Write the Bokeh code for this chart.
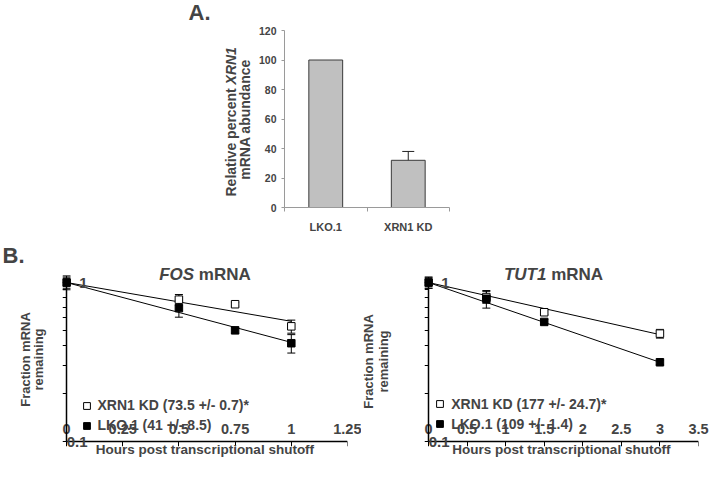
import math
from bokeh.plotting import figure
from bokeh.models import (Range1d, FixedTicker, Whisker, ColumnDataSource, Label,
                          Legend, LegendItem, TeeHead, LinearAxis, LogAxis)
from bokeh.layouts import column, row
from bokeh.embed import file_html
from bokeh.resources import INLINE

FONT = "Liberation Sans"

# ---------------- Panel A data ----------------
a_categories = ["LKO.1", "XRN1 KD"]
a_values = [100, 32]
a_errors = [0, 6]
a_yticks = [0, 20, 40, 60, 80, 100, 120]

# ---------------- Panel B data (FOS) ----------------
fos_hours = [0, 0.5, 0.75, 1.0]
fos_xrn1 = [1.0, 0.78, 0.73, 0.53]
fos_xrn1_err = [0.1, 0.06, 0.02, 0.05]
fos_lko = [1.0, 0.69, 0.50, 0.415]
fos_lko_err = [0.08, 0.085, 0.02, 0.055]
fos_fit_hours = [0, 1.0]
fos_xrn1_fit = [1.0, 0.57]
fos_lko_fit = [1.0, 0.42]
fos_xticks = [0, 0.25, 0.5, 0.75, 1.0, 1.25]
fos_legend = ["XRN1 KD (73.5 +/- 0.7)*", "LKO.1 (41 +/- 8.5)"]

# ---------------- Panel B data (TUT1) ----------------
tut1_hours = [0, 0.75, 1.5, 3.0]
tut1_xrn1 = [1.0, 0.81, 0.65, 0.477]
tut1_xrn1_err = [0.08, 0.07, 0.02, 0.03]
tut1_lko = [1.0, 0.79, 0.565, 0.315]
tut1_lko_err = [0.08, 0.1, 0.02, 0.01]
tut1_fit_hours = [0, 3.0]
tut1_xrn1_fit = [1.0, 0.47]
tut1_lko_fit = [1.0, 0.315]
tut1_xticks = [0, 0.5, 1, 1.5, 2, 2.5, 3, 3.5]
tut1_legend = ["XRN1 KD (177 +/- 24.7)*", "LKO.1 (109 +/- 1.4)"]

y_major = [0.1, 1]
y_minor = [k / 10 for k in range(2, 10)]
x_title = "Hours post transcriptional shutoff"


def text_label(p, side, **kw):
    kw.setdefault("text_font", FONT)
    kw.setdefault("text_font_style", "bold")
    kw.setdefault("text_baseline", "middle")
    if side is None:
        p.add_layout(Label(**kw))
    else:
        p.add_layout(Label(**kw), side)


# =============== Panel A ===============
A_LEFT, A_FW, A_TOP, A_FH, A_H = 284, 165, 30, 177, 235
pa = figure(frame_width=A_FW, frame_height=A_FH, output_backend="svg",
            toolbar_location=None,
            x_range=Range1d(0, len(a_categories)), y_range=Range1d(0, 120),
            min_border_left=A_LEFT, min_border_right=711 - A_LEFT - A_FW,
            min_border_top=A_TOP, min_border_bottom=A_H - A_TOP - A_FH)
pa.outline_line_color = None
pa.grid.visible = False
a_x = [i + 0.5 for i in range(len(a_categories))]
pa.vbar(x=a_x, top=a_values, bottom=0, width=0.41, fill_color="#c0c0c0",
        line_color="#3a3a3a", line_width=1)
err_idx = [i for i, e in enumerate(a_errors) if e > 0]
a_err_src = ColumnDataSource(dict(
    x=[a_x[i] for i in err_idx],
    upper=[a_values[i] + a_errors[i] for i in err_idx],
    lower=[a_values[i] - a_errors[i] for i in err_idx]))
pa.add_layout(Whisker(source=a_err_src, base="x", upper="upper", lower="lower",
                      line_color="#222222", line_width=1,
                      upper_head=TeeHead(size=12, line_color="#222222", line_width=1),
                      lower_head=TeeHead(size=12, line_color="#222222", line_width=1)))
ya = pa.yaxis[0]
ya.ticker = FixedTicker(ticks=a_yticks, minor_ticks=[])
ya.axis_line_color = "#9a9a9a"
ya.major_tick_line_color = "#9a9a9a"
ya.major_tick_out = 3
ya.major_tick_in = 0
ya.major_label_standoff = 5
ya.major_label_text_font = FONT
ya.major_label_text_font_style = "bold"
ya.major_label_text_font_size = "10.5px"
xa = pa.xaxis[0]
xa.ticker = FixedTicker(ticks=a_x, minor_ticks=list(range(len(a_categories) + 1)))
xa.major_label_overrides = {x: c for x, c in zip(a_x, a_categories)}
xa.axis_line_color = "#9a9a9a"
xa.major_tick_line_color = None
xa.major_tick_out = 0
xa.major_tick_in = 0
xa.minor_tick_line_color = "#9a9a9a"
xa.minor_tick_out = 4
xa.minor_tick_in = 0
xa.major_label_standoff = 9
xa.major_label_text_font = FONT
xa.major_label_text_font_style = "bold"
xa.major_label_text_font_size = "11px"

ylab_fs = 14
text_label(pa, "left", x=0, y=0, x_offset=-54, y_offset=11, angle=math.pi / 2,
           text="Relative percent ", text_font_size=f"{ylab_fs}px", text_align="left")
text_label(pa, "left", x=0, y=0, x_offset=-54, y_offset=11 + 8.003 * ylab_fs,
           angle=math.pi / 2, text="XRN1", text_font_style="bold italic",
           text_font_size=f"{ylab_fs}px", text_align="left")
text_label(pa, "left", x=0, y=0, x_offset=-40, y_offset=88, angle=math.pi / 2,
           text="mRNA abundance", text_font_size=f"{ylab_fs}px", text_align="center")
text_label(pa, "left", x=0, y=120, x_offset=-96, y_offset=18, text="A.",
           text_font_size="22px")


# =============== Panel B ===============
def decay_panel(border_left, border_right, axis_w, hours, xrn1, xrn1_err,
                lko, lko_err, fit_hours, xrn1_fit, lko_fit, xticks, gene,
                legend_labels, title_offset, ylab_offsets, ylab_center, legend_x,
                legend_y, panel_letter=None):
    pad_l, pad_b, pad_t = 4, 5, 15
    ax_h = 159
    xmax = xticks[-1]
    x0 = -pad_l * xmax / axis_w
    y0 = 0.1 * 10 ** (-pad_b / ax_h)
    y1 = 10 ** (pad_t / ax_h)
    p = figure(frame_width=axis_w + pad_l, frame_height=ax_h + pad_b + pad_t,
               output_backend="svg", toolbar_location=None,
               x_range=Range1d(x0, xmax), y_range=Range1d(y0, y1), y_axis_type="log",
               min_border_left=border_left, min_border_right=border_right,
               min_border_top=32, min_border_bottom=52)
    p.outline_line_color = None
    p.grid.visible = False

    p.line(fit_hours, xrn1_fit, line_color="black", line_width=1)
    p.line(fit_hours, lko_fit, line_color="black", line_width=1)

    for vals, errs in ((xrn1, xrn1_err), (lko, lko_err)):
        src = ColumnDataSource(dict(x=hours,
                                    upper=[v + e for v, e in zip(vals, errs)],
                                    lower=[v - e for v, e in zip(vals, errs)]))
        p.add_layout(Whisker(source=src, base="x", upper="upper", lower="lower",
                             line_color="black", line_width=1,
                             upper_head=TeeHead(size=8, line_color="black", line_width=1),
                             lower_head=TeeHead(size=8, line_color="black", line_width=1)))

    r_open = p.scatter(hours, xrn1, marker="square", size=7.5, fill_color="white",
                       line_color="black", line_width=1)
    r_fill = p.scatter(hours, lko, marker="square", size=7.5, fill_color="black",
                       line_color="black", line_width=1)

    # default axes: drawn at the data origin (x=0, y=0.1), inside the padded frame
    xa = p.xaxis[0]
    xa.fixed_location = 0.1
    xa.bounds = (0, xmax)
    xa.ticker = FixedTicker(ticks=xticks, minor_ticks=[])
    xa.major_label_overrides = {t: f"{t:g}" for t in xticks}
    xa.axis_line_width = 1.5
    xa.major_tick_out = 5
    xa.major_tick_in = 0
    xa.major_label_standoff = 10
    xa.major_label_text_font = FONT
    xa.major_label_text_font_style = "bold"
    xa.major_label_text_font_size = "14.5px"

    ya = p.yaxis[0]
    ya.fixed_location = 0
    ya.bounds = (0.1, 1)
    ya.ticker = FixedTicker(ticks=y_major, minor_ticks=y_minor)
    ya.major_label_overrides = {t: f"{t:g}" for t in y_major}
    ya.axis_line_width = 1.5
    ya.major_tick_out = 4
    ya.major_tick_in = 0
    ya.minor_tick_out = 4
    ya.minor_tick_in = 0
    ya.major_label_standoff = 3
    ya.major_label_text_font = FONT
    ya.major_label_text_font_style = "bold"
    ya.major_label_text_font_size = "15px"

    # label-carrying axes, stacked outside the default ones
    ylab = LogAxis(ticker=FixedTicker(ticks=y_major, minor_ticks=[]),
                   major_label_overrides={t: f"{t:g}" for t in y_major},
                   axis_line_color=None, major_tick_line_color=None,
                   minor_tick_line_color=None, major_tick_out=0, major_tick_in=0,
                   minor_tick_out=0, minor_tick_in=0, major_label_standoff=-25,
                   major_label_text_font=FONT, major_label_text_font_style="bold",
                   major_label_text_font_size="15px")
    p.add_layout(ylab, "left")
    xlab = LinearAxis(ticker=FixedTicker(ticks=xticks, minor_ticks=[]),
                      major_label_overrides={t: f"{t:g}" for t in xticks},
                      axis_line_color=None, major_tick_line_color=None,
                      major_tick_out=0, major_tick_in=0, major_label_standoff=-23,
                      major_label_text_font=FONT, major_label_text_font_style="bold",
                      major_label_text_font_size="14.5px",
                      axis_label=x_title, axis_label_text_font=FONT,
                      axis_label_text_font_style="bold",
                      axis_label_text_font_size="13.5px", axis_label_standoff=5)
    p.add_layout(xlab, "below")

    # title (inside the frame's top margin)
    tfs = 17
    xc = xmax / 2
    text_label(p, None, x=xc, y=1, x_offset=title_offset[0], y_offset=8,
               text=gene, text_font_style="bold italic", text_font_size=f"{tfs}px",
               text_align="left")
    text_label(p, None, x=xc, y=1, x_offset=title_offset[1], y_offset=8,
               text="mRNA", text_font_size=f"{tfs}px", text_align="left")
    # y label
    for txt, off in zip(["Fraction mRNA", "remaining"], ylab_offsets):
        text_label(p, "left", x=0, y=0.1, x_offset=off, y_offset=ylab_center,
                   angle=math.pi / 2, text=txt, text_font_size="13px",
                   text_align="center")
    if panel_letter:
        text_label(p, "above", x=0, y=1, x_offset=-64, y_offset=27,
                   text=panel_letter, text_font_size="22px")

    legend = Legend(items=[LegendItem(label=legend_labels[0], renderers=[r_open]),
                           LegendItem(label=legend_labels[1], renderers=[r_fill])],
                    location=(legend_x, legend_y), padding=0, margin=0, spacing=3,
                    glyph_width=17, glyph_height=17, label_height=17,
                    label_standoff=3, border_line_color=None,
                    background_fill_alpha=0,
                    label_text_font=FONT, label_text_font_style="bold",
                    label_text_font_size="14px")
    p.add_layout(legend)
    return p


tfs = 17
fos_w = (2.056 + 0.278 + 3.055) * tfs
fos_start = -2 - fos_w / 2
p1 = decay_panel(62, 14, 281, fos_hours, fos_xrn1, fos_xrn1_err, fos_lko,
                 fos_lko_err, fos_fit_hours, fos_xrn1_fit, fos_lko_fit, fos_xticks,
                 "FOS", fos_legend, (fos_start, fos_start + 2.334 * tfs),
                 (-41, -28), 82, 15.5, 12.5, panel_letter="B.")
tut_w = (2.5 + 0.278 + 3.055) * tfs
tut_start = -10 - tut_w / 2
p2 = decay_panel(63, 13, 270, tut1_hours, tut1_xrn1, tut1_xrn1_err, tut1_lko,
                 tut1_lko_err, tut1_fit_hours, tut1_xrn1_fit, tut1_lko_fit, tut1_xticks,
                 "TUT1", tut1_legend, (tut_start, tut_start + 2.778 * tfs),
                 (-60, -45), 80, 7.2, 13.9)

layout = column(pa, row(p1, p2))
open("out.html", "w").write(file_html(layout, INLINE))
